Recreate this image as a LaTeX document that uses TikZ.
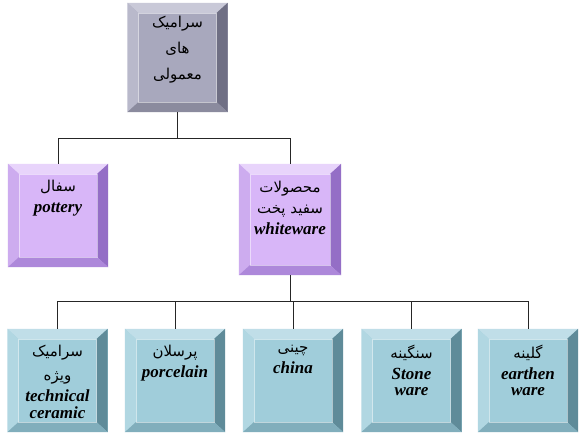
\documentclass[tikz,border=0pt]{standalone}
\usepackage{fontspec}
\newfontfamily\fafont[Script=Arabic]{DejaVu Sans}
\newfontfamily\enfont{Liberation Serif}
\TeXXeTstate=1
\usetikzlibrary{positioning}

\definecolor{grayface}{HTML}{A8A8BD}
\definecolor{graytop}{HTML}{C9C9D8}
\definecolor{grayleft}{HTML}{B9B9CB}
\definecolor{grayright}{HTML}{6F6F84}
\definecolor{graybottom}{HTML}{8B8B9E}
\definecolor{lilacface}{HTML}{D8B6F8}
\definecolor{lilactop}{HTML}{E8D4FB}
\definecolor{lilacleft}{HTML}{CDACEF}
\definecolor{lilacright}{HTML}{946EC6}
\definecolor{lilacbottom}{HTML}{AD88DA}
\definecolor{blueface}{HTML}{A0CDDA}
\definecolor{bluetop}{HTML}{C0DEE8}
\definecolor{blueleft}{HTML}{B1D7E2}
\definecolor{blueright}{HTML}{5F8B99}
\definecolor{bluebottom}{HTML}{81AEBC}

\newcommand\fa[1]{{\fafont\beginR #1\endR}}
\newcommand\en[1]{{\enfont\bfseries\itshape\fontsize{17}{21}\selectfont #1}}

% bevel: node, colour family
\newcommand\bevel[2]{%
  \fill[#2top] (#1.north west) -- (#1.north east) -- ([shift={(-11pt,-10pt)}]#1.north east) -- ([shift={(11pt,-10pt)}]#1.north west) -- cycle;
  \fill[#2left] (#1.north west) -- ([shift={(11pt,-10pt)}]#1.north west) -- ([shift={(11pt,10pt)}]#1.south west) -- (#1.south west) -- cycle;
  \fill[#2right] (#1.north east) -- ([shift={(-11pt,-10pt)}]#1.north east) -- ([shift={(-11pt,10pt)}]#1.south east) -- (#1.south east) -- cycle;
  \fill[#2bottom] (#1.south west) -- ([shift={(11pt,10pt)}]#1.south west) -- ([shift={(-11pt,10pt)}]#1.south east) -- (#1.south east) -- cycle;
  \draw[white, opacity=0.5, line width=0.6pt] ([shift={(11pt,-10pt)}]#1.north west) rectangle ([shift={(-11pt,10pt)}]#1.south east);
}

\begin{document}
\begin{tikzpicture}[x=1pt, y=-1pt,
    box/.style={rectangle, inner sep=0pt, minimum width=100pt, minimum height=103pt},
    words/.style={inner sep=0pt, align=center, font=\fontsize{15}{21}\selectfont},
    link/.style={draw=black!85, line width=0.7pt}]
  \useasboundingbox[fill=white] (0,0) rectangle (583,434);

  \node[box, fill=grayface, minimum height=109pt] (ordinary) at (177.5,57.5) {};
  \node[box, fill=lilacface] (pottery) at (58,215.5) {};
  \node[box, fill=lilacface, minimum width=102pt, minimum height=111pt] (whiteware) at (290,219.5) {};
  \node[box, fill=blueface] (technical) at (57.5,380.5) {};
  \node[box, fill=blueface] (porcelain) at (175,380.5) {};
  \node[box, fill=blueface] (china) at (293,380.5) {};
  \node[box, fill=blueface] (stoneware) at (411.5,380.5) {};
  \node[box, fill=blueface] (earthenware) at (528,380.5) {};

  \bevel{ordinary}{gray}
  \bevel{pottery}{lilac}
  \bevel{whiteware}{lilac}
  \foreach \b in {technical, porcelain, china, stoneware, earthenware}
    {\bevel{\b}{blue}}

  \node[words, font=\fontsize{15}{26}\selectfont, below=13pt of ordinary.north] (ordinaryT)
    {\fa{سرامیک}\\\fa{های}\\\fa{معمولی}};
  \node[words, below=16pt of pottery.north] (potteryT)
    {\fa{سفال}\\\en{pottery}};
  \node[words, below=17pt of whiteware.north] (whitewareT)
    {\fa{محصولات}\\\fa{سفید پخت}\\\en{whiteware}};
  \node[words, below=16pt of technical.north] (technicalT)
    {\fa{سرامیک}\\[3pt]\fa{ویژه}\\[0pt]\en{technical}\\[-4pt]\en{ceramic}};
  \node[words, below=16pt of porcelain.north] (porcelainT)
    {\fa{پرسلان}\\\en{porcelain}};
  \node[words, below=16pt of china.north] (chinaT)
    {\fa{چینی}\\\en{china}};
  \node[words, below=16pt of stoneware.north] (stonewareT)
    {\fa{سنگینه}\\\en{Stone}\\[-5pt]\en{ware}};
  \node[words, below=16pt of earthenware.north] (earthenwareT)
    {\fa{گلینه}\\\en{earthen}\\[-5pt]\en{ware}};

  \begin{scope}[link]
    \draw (ordinary.south) -- ++(0,26) -| (pottery.north);
    \draw (ordinary.south) -- ++(0,26) -| (whiteware.north);
    \foreach \b in {technical, porcelain, china, stoneware, earthenware}
      \draw (whiteware.south) -- ++(0,26) -| (\b.north);
  \end{scope}
\end{tikzpicture}
\end{document}
